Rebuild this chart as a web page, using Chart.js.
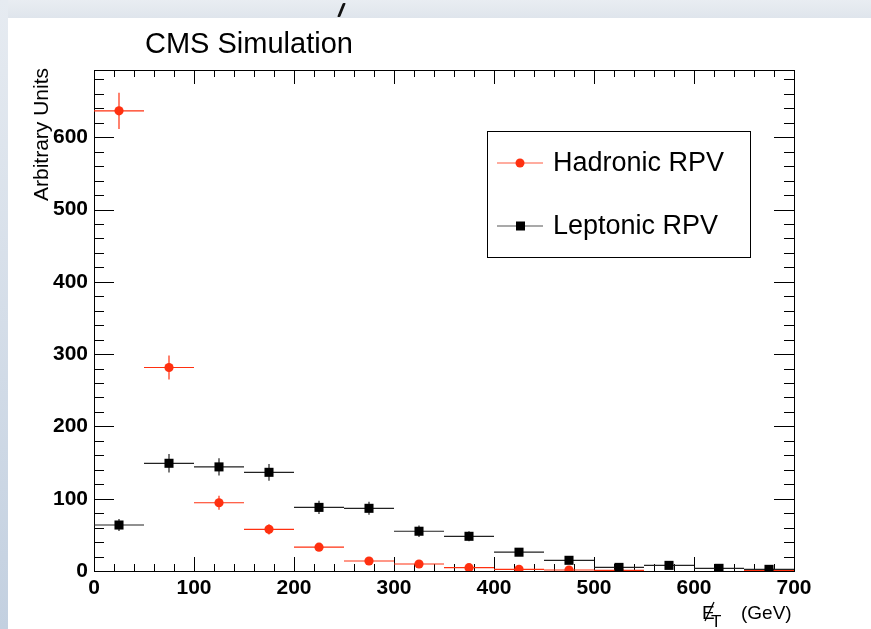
<!DOCTYPE html>
<html>
<head>
<meta charset="utf-8">
<title>MET RPV</title>
<script src="https://cdn.jsdelivr.net/npm/chart.js@4/dist/chart.umd.min.js"></script>
<style>
    html, body { margin: 0; padding: 0; background: #fff; }
    #wrap { position: relative; width: 871px; height: 629px; overflow: hidden; background: #fff; }
    #topband { position: absolute; left: 0; top: 0; width: 871px; height: 18px; background: linear-gradient(#e9edf2, #dfe5ec); }
    #leftband { position: absolute; left: 0; top: 0; width: 8px; height: 629px; background: linear-gradient(#e6ebf1, #c3d0e0); }
    #glyph { position: absolute; left: 340px; top: 3px; width: 3px; height: 14px; background: #111; transform: skewX(-22deg); border-radius: 1px; }
    #chart { position: absolute; left: 0; top: 0; }
</style>
</head>
<body>
<div id="wrap">
    <div id="topband"></div>
    <div id="leftband"></div>
    <div id="glyph"></div>
    <canvas id="chart" width="871" height="629"></canvas>
</div>
<script>
// --- dados ---
const binCenters = [25, 75, 125, 175, 225, 275, 325, 375, 425, 475, 525, 575, 625, 675];
const binHalfWidth = 25;
const hadronic = [636.5, 281.5, 94.4, 57.6, 33, 13.8, 9.7, 4.6, 2.3, 1.4, 0.8, null, null, 0.8];
const hadronicErr = [25, 16.6, 9.7, 7, 3.5, 2.5, 2, 1.5, 1, 1, 0.6, 0, 0, 0.6];
const leptonic = [63.6, 149, 144, 136.5, 88, 86.7, 55, 48, 26, 14.8, 5, 7.8, 3.7, 2.3];
const leptonicErr = [8.3, 12.7, 12, 11.5, 9, 9, 8, 7, 5, 4, 3, 3, 2.5, 2];
const xTicks = [0, 100, 200, 300, 400, 500, 600, 700];
const yTicks = [0, 100, 200, 300, 400, 500, 600];

const RED = '#ff3010';
const FONT = "'Liberation Sans', Arial, Helvetica, sans-serif";

const toPoints = (vals) => binCenters.map((x, i) => ({ x: x, y: vals[i] }));

// barras de erro (x = largura do bin, y = erro estatístico)
const errorBars = {
    id: 'errorBars',
    beforeDatasetDraw(chart, args) {
        const ds = chart.data.datasets[args.index];
        const xs = chart.scales.x, ys = chart.scales.y;
        const ctx = chart.ctx;
        ctx.save();
        ctx.strokeStyle = ds.errColor;
        ctx.lineWidth = 1.2;
        ds.data.forEach((p, i) => {
            if (p.y == null) return;
            const px = xs.getPixelForValue(p.x);
            const py = ys.getPixelForValue(p.y);
            ctx.beginPath();
            ctx.moveTo(xs.getPixelForValue(p.x - binHalfWidth), py);
            ctx.lineTo(xs.getPixelForValue(p.x + binHalfWidth), py);
            const e = ds.yErr[i];
            if (e > 0) {
                ctx.moveTo(px, ys.getPixelForValue(p.y + e));
                ctx.lineTo(px, ys.getPixelForValue(Math.max(0, p.y - e)));
            }
            ctx.stroke();
        });
        ctx.restore();
    }
};

// moldura estilo ROOT com ticks nos quatro lados
const rootFrame = {
    id: 'rootFrame',
    beforeDatasetsDraw(chart) {
        const { ctx, chartArea: a } = chart;
        const xs = chart.scales.x, ys = chart.scales.y;
        ctx.save();
        ctx.strokeStyle = '#000';
        ctx.lineWidth = 1;
        ctx.strokeRect(Math.round(a.left) + 0.5, Math.round(a.top) + 0.5,
            Math.round(a.right - a.left), Math.round(a.bottom - a.top));
        ctx.beginPath();
        for (let v = 0; v <= xs.max; v += 20) {
            const px = Math.round(xs.getPixelForValue(v)) + 0.5;
            const len = v % 100 === 0 ? 14 : 7;
            ctx.moveTo(px, a.bottom); ctx.lineTo(px, a.bottom - len);
            ctx.moveTo(px, a.top); ctx.lineTo(px, a.top + len);
        }
        for (let v = 0; v <= ys.max; v += 20) {
            const py = Math.round(ys.getPixelForValue(v)) + 0.5;
            const len = v % 100 === 0 ? 20 : 10;
            ctx.moveTo(a.left, py); ctx.lineTo(a.left + len, py);
            ctx.moveTo(a.right, py); ctx.lineTo(a.right - len, py);
        }
        ctx.stroke();
        ctx.restore();
    },
    afterDraw(chart) {
        const ctx = chart.ctx;
        ctx.save();
        ctx.fillStyle = '#000';
        // título
        ctx.font = '29px ' + FONT;
        ctx.textBaseline = 'alphabetic';
        ctx.textAlign = 'left';
        ctx.fillText('CMS Simulation', 145, 53);

        // título do eixo y
        ctx.save();
        ctx.translate(48, 68);
        ctx.rotate(-Math.PI / 2);
        ctx.font = '21px ' + FONT;
        ctx.textAlign = 'right';
        ctx.fillText('Arbitrary Units', 0, 0);
        ctx.restore();

        // título do eixo x: E_T faltante
        ctx.font = '19px ' + FONT;
        ctx.textAlign = 'left';
        ctx.fillText('E', 702, 619);
        ctx.beginPath();
        ctx.lineWidth = 1.3;
        ctx.strokeStyle = '#000';
        ctx.moveTo(705, 621); ctx.lineTo(714, 602);
        ctx.stroke();
        ctx.font = '17px ' + FONT;
        ctx.fillText('T', 711, 627);
        ctx.font = '19px ' + FONT;
        ctx.fillText('(GeV)', 741, 619);

        // legenda
        ctx.lineWidth = 1;
        ctx.strokeStyle = '#000';
        ctx.strokeRect(487.5, 131.5, 263, 126);
        const entries = [
            { label: 'Hadronic RPV', color: RED, line: '#ff5a40', style: 'circle', y: 163 },
            { label: 'Leptonic RPV', color: '#000', line: '#555', style: 'rect', y: 226 }
        ];
        entries.forEach(en => {
            ctx.strokeStyle = en.line;
            ctx.lineWidth = 1.2;
            ctx.beginPath();
            ctx.moveTo(497, en.y); ctx.lineTo(543, en.y);
            ctx.stroke();
            ctx.fillStyle = en.color;
            if (en.style === 'circle') {
                ctx.beginPath(); ctx.arc(520, en.y, 4.5, 0, Math.PI * 2); ctx.fill();
            } else {
                ctx.fillRect(516, en.y - 4.5, 9, 9);
            }
            ctx.fillStyle = '#000';
            ctx.font = '27px ' + FONT;
            ctx.textBaseline = 'middle';
            ctx.fillText(en.label, 553, en.y + 1);
        });
        ctx.restore();
    }
};

const ctx = document.getElementById('chart').getContext('2d');
const chart = new Chart(ctx, {
    type: 'scatter',
    data: {
        datasets: [
            {
                label: 'Hadronic RPV',
                data: toPoints(hadronic),
                yErr: hadronicErr,
                errColor: RED,
                backgroundColor: RED,
                borderColor: RED,
                pointStyle: 'circle',
                pointRadius: 4.6,
                pointBorderWidth: 0,
                order: 2,
                clip: 0
            },
            {
                label: 'Leptonic RPV',
                data: toPoints(leptonic),
                yErr: leptonicErr,
                errColor: '#222',
                backgroundColor: '#000',
                borderColor: '#000',
                pointStyle: 'rect',
                pointRadius: 6.4,
                pointBorderWidth: 0,
                order: 1,
                clip: 0
            }
        ]
    },
    options: {
        responsive: false,
        animation: false,
        layout: { padding: { left: 0, top: 70, right: 77, bottom: 0 } },
        plugins: { legend: { display: false }, tooltip: { enabled: false } },
        scales: {
            x: {
                type: 'linear',
                min: 0,
                max: 700,
                grid: { display: false, drawTicks: false },
                border: { display: false },
                afterBuildTicks: s => { s.ticks = xTicks.map(v => ({ value: v })); },
                afterFit: s => { s.height = 58; },
                ticks: {
                    color: '#000',
                    padding: 5,
                    maxRotation: 0,
                    font: { family: FONT, size: 21, weight: 'bold' }
                }
            },
            y: {
                type: 'linear',
                min: 0,
                max: 693,
                grid: { display: false, drawTicks: false },
                border: { display: false },
                afterBuildTicks: s => { s.ticks = yTicks.map(v => ({ value: v })); },
                afterFit: s => { s.width = 94; },
                ticks: {
                    color: '#000',
                    padding: 6,
                    font: { family: FONT, size: 21, weight: 'bold' }
                }
            }
        }
    },
    plugins: [errorBars, rootFrame]
});
</script>
</body>
</html>
